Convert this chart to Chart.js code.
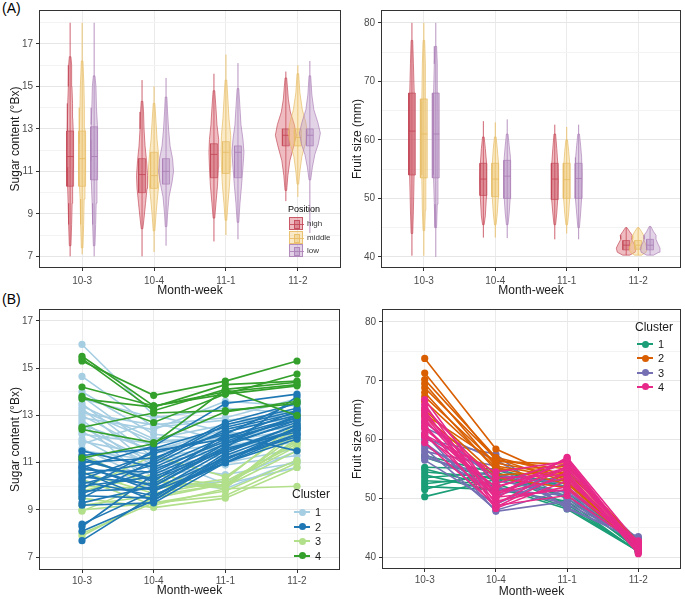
<!DOCTYPE html>
<html><head><meta charset="utf-8">
<script src="https://cdn.jsdelivr.net/npm/chart.js@4.4.1/dist/chart.umd.min.js"></script>
<style>
body{margin:0;background:#fff;width:685px;height:599px;position:relative;overflow:hidden;font-family:"Liberation Sans",Arial,sans-serif}
.pan{position:absolute}
.tag{position:absolute;font-size:14px;color:#000;line-height:14px}
.lt{position:absolute;color:#000;white-space:nowrap}
.key{position:absolute;width:14px;height:13px;box-sizing:border-box}
.key i{position:absolute;left:4px;top:2px;width:6px;height:9px;box-sizing:border-box;border:1px solid}
.key b{position:absolute;left:0;top:6px;width:14px;height:1px}
.sym{position:absolute;width:16px;height:2px}
.dot{position:absolute;width:7px;height:7px;border-radius:50%}
</style></head>
<body>
<div class="tag" style="left:2px;top:1px">(A)</div>
<div class="tag" style="left:2px;top:292px">(B)</div>
<canvas id="c1" class="pan" width="345" height="300" style="left:0;top:0"></canvas>
<canvas id="c2" class="pan" width="340" height="300" style="left:345px;top:0"></canvas>
<canvas id="c3" class="pan" width="345" height="299" style="left:0;top:300px"></canvas>
<canvas id="c4" class="pan" width="340" height="299" style="left:345px;top:300px"></canvas>
<div id="leg"></div>
<script>
// ---------- categories ----------
const weeks = ['10-3', '10-4', '11-1', '11-2'];
const positionNames = ['high', 'middle', 'low'];

// ---------- (A) sugar content: whiskers [lo, hi], boxes [q1, median, q3] ----------
const sugarHighWhisker = [[7.0, 18.0], [7.0, 15.3], [7.7, 15.6], [9.6, 15.7]];
const sugarMiddleWhisker = [[7.1, 18.0], [7.2, 15.0], [8.0, 16.5], [9.8, 16.0]];
const sugarLowWhisker = [[7.0, 18.0], [7.5, 15.4], [7.8, 16.1], [8.1, 16.2]];
const sugarHighBox = [[10.3, 11.7, 12.9], [10.0, 10.85, 11.6], [10.7, 11.8, 12.3], [12.2, 12.7, 13.0]];
const sugarMiddleBox = [[10.3, 11.6, 12.9], [10.2, 10.8, 11.9], [10.9, 11.9, 12.4], [12.2, 12.6, 13.0]];
const sugarLowBox = [[10.6, 11.7, 13.1], [10.4, 11.0, 11.6], [10.7, 11.9, 12.2], [12.2, 12.7, 13.0]];
// violin density profiles [value, relative density]
const sugarHighViolin = [
  [[7.5,0.8],[8.5,1.5],[9.5,2],[10.3,2.5],[11.2,3],[12,3.2],[12.9,3],[13.5,2.6],[14.2,2.4],[15,1.8],[16,1.5],[16.4,0.8]],
  [[8.3,0.8],[8.8,2],[9.5,3.5],[10.2,5],[10.8,5.5],[11.5,4.5],[12.2,3],[13,2],[13.8,1.5],[14.3,0.8]],
  [[8.8,0.8],[9.5,2],[10.3,3.5],[11.2,4.5],[11.9,5],[12.5,4.5],[13.2,3],[14,2],[14.8,0.8]],
  [[10.1,0.8],[10.8,2],[11.5,4],[12.2,8],[12.7,10.5],[13.2,8.5],[13.8,4.5],[14.4,2.5],[15,1.5],[15.4,0.8]]
];
const sugarMiddleViolin = [
  [[7.4,0.8],[8.5,1.5],[9.7,2],[10.5,2.8],[11.5,3.2],[12.3,3],[13,2.8],[14,2.2],[15,1.8],[16.2,0.8]],
  [[8.2,0.8],[9,2],[9.8,3.5],[10.5,5],[11.2,5.5],[11.8,4.5],[12.5,3],[13.3,2],[14.2,0.8]],
  [[8.7,0.8],[9.5,2],[10.3,3.5],[11.2,4.5],[12,5],[12.7,4.5],[13.5,3],[14.5,1.8],[15.3,0.8]],
  [[10.4,0.8],[11,2],[11.7,4],[12.3,7.5],[12.8,9.5],[13.3,8],[13.9,4.5],[14.7,2],[15.6,0.8]]
];
const sugarLowViolin = [
  [[7.5,0.8],[8.5,1.5],[9.5,2],[10.5,2.8],[11.5,3.2],[12.5,3.5],[13.2,3],[14,2.3],[15,1.8],[15.5,0.8]],
  [[8.4,0.8],[9,1.5],[9.8,3],[10.5,6],[11,7.5],[11.6,6.5],[12.2,4],[13,2.5],[13.8,1.5],[14.5,0.8]],
  [[8.6,0.8],[9.5,2],[10.3,3.5],[11.2,5],[11.9,6],[12.5,5],[13.2,3],[14,2],[14.9,0.8]],
  [[10.6,0.8],[11.2,2.5],[11.8,5],[12.3,8.5],[12.8,10.5],[13.3,8],[13.9,4],[14.6,2],[15.5,0.8]]
];

// ---------- (A) fruit size ----------
const fruitHighWhisker = [[40.2, 80], [43.3, 63.2], [43.0, 62.6], [40.3, 45.0]];
const fruitMiddleWhisker = [[40.2, 80], [43.3, 63.0], [44.0, 62.2], [40.3, 45.0]];
const fruitLowWhisker = [[40.0, 80], [43.2, 63.5], [43.0, 62.6], [40.3, 45.2]];
const fruitHighBox = [[54, 61.5, 68], [50.5, 53.3, 56], [49.8, 53.3, 56], [41.2, 42, 42.8]];
const fruitMiddleBox = [[53.5, 61, 67], [50.3, 53.3, 56], [50, 53.2, 56], [41.3, 42, 42.8]];
const fruitLowBox = [[53.5, 61, 68], [50, 53.8, 56.5], [50, 53.4, 56], [41.2, 42, 43]];
const fruitHighViolin = [
  [[44,0.8],[48,1.5],[54,2.2],[61,2.4],[68,2.2],[73,1.5],[77,0.8]],
  [[45.5,0.8],[47,2],[50,3],[53,3.5],[56,3],[58.5,2],[60.5,0.8]],
  [[45.5,0.8],[47.5,2],[50,3],[53,3.5],[56,3],[58.5,2],[61,0.8]],
  [[40.3,3.5],[40.8,9],[41.5,10],[42.2,8],[43,5.5],[43.7,6],[44.3,3.5],[45,0.8]]
];
const fruitMiddleViolin = [
  [[44.5,0.8],[48,1.5],[54,2],[61,2.2],[67,2],[73,1.5],[77,0.8]],
  [[45.5,0.8],[47.5,2],[50,3],[53,3.5],[56,3],[58.5,2],[60.5,0.8]],
  [[45.5,0.8],[47.5,2],[50,3],[53,3.3],[56,2.8],[58,2],[60,0.8]],
  [[40.3,3.5],[40.8,8],[41.5,9],[42.2,7.5],[43,5.5],[43.7,5.5],[44.3,3.5],[45,0.8]]
];
const fruitLowViolin = [
  [[45,0.8],[49,1.5],[54,2.2],[61,2.4],[68,2.2],[73,1.5],[76,0.8]],
  [[45.5,0.8],[47.5,2],[50,3],[54,3.5],[57,3],[59,2],[61,0.8]],
  [[45,0.8],[47.5,2],[50,3],[54,3.5],[57,3],[59,2],[61,0.8]],
  [[40.3,3.5],[40.8,9],[41.5,10],[42.2,8],[43,6],[43.7,6],[44.3,3.5],[45.2,0.8]]
];

// ---------- (B) sugar content per sample, by cluster ----------
const sugarCluster1 = [
  [16.0,13.0,12.3,12.0],[14.65,12.5,12.8,13.0],[14.0,12.2,11.9,12.4],[13.8,11.6,12.0,12.6],
  [13.7,12.9,13.3,13.1],[13.5,11.2,11.7,12.2],[13.4,12.0,12.6,13.2],[13.3,10.8,11.3,12.0],
  [13.2,11.9,12.1,12.8],[13.0,11.4,11.8,11.8],[12.9,12.4,13.6,13.4],[12.8,10.6,11.0,11.6],
  [12.6,11.5,12.4,12.9],[12.5,11.0,11.5,12.3],[12.3,10.9,10.5,11.0],[12.2,11.8,12.2,12.5],
  [12.0,10.4,10.9,11.3],[11.9,11.3,10.1,10.8],[11.8,12.7,11.9,12.1],[11.6,10.2,9.9,11.1],
  [11.5,11.1,11.6,12.4],[13.1,12.6,12.9,13.7],[12.7,10.0,10.2,11.5],[11.4,9.8,11.2,12.0]
];
const sugarCluster2 = [
  [11.5,10.8,12.1,12.9],[11.3,11.6,12.5,13.2],[11.1,10.3,11.5,12.6],[11.0,11.2,12.3,13.0],
  [10.9,9.8,11.0,12.2],[10.8,11.7,13.5,13.9],[10.7,10.6,12.0,12.8],[10.6,9.4,11.3,12.4],
  [10.5,11.0,12.6,13.3],[10.4,10.1,11.8,12.7],[10.3,11.4,12.2,11.5],[10.2,9.6,11.1,12.5],
  [10.1,10.9,12.4,13.1],[10.0,10.4,11.6,12.3],[9.9,11.5,12.0,13.2],[9.8,9.9,11.2,12.1],
  [9.7,10.7,11.9,12.9],[9.6,9.5,11.4,12.6],[9.5,11.1,12.7,13.5],[9.3,10.0,11.7,12.8],
  [9.2,9.3,11.0,12.0],[8.4,9.8,11.5,12.4],[8.3,10.5,11.8,13.0],[8.1,9.4,11.2,12.2],
  [7.7,9.6,11.0,12.5],[11.2,10.2,12.2,13.6],[10.8,10.0,11.6,13.8]
];
const sugarCluster3 = [
  [11.3,10.0,10.0,12.0],[11.1,10.3,9.9,12.4],[10.6,9.7,10.2,11.8],[10.3,9.2,9.9,10.0],
  [10.0,9.9,10.3,12.7],[9.8,10.5,10.0,11.5],[9.5,9.1,9.5,10.8],[9.2,9.6,10.1,11.9],
  [9.0,9.3,9.8,11.1],[8.95,10.2,10.0,12.2],[8.0,9.3,9.6,11.0],[7.9,9.5,10.1,11.7],
  [9.9,11.3,10.4,12.5]
];
const sugarCluster4 = [
  [15.5,13.4,14.0,14.3],[15.4,13.2,14.1,13.0],[15.3,13.85,14.45,15.3],[14.2,13.4,13.9,14.75],
  [13.7,13.35,14.3,14.45],[12.4,11.85,13.15,13.6],[13.8,12.7,13.9,14.25],[12.5,13.1,13.2,13.5],
  [11.2,11.8,14.1,14.4]
];

// ---------- (B) fruit size per sample, by cluster ----------
const fruitCluster1 = [
  [57.3,54.3,49.0,41.0],[57.0,53.0,55.8,41.5],[55.3,55.0,52.0,41.2],[55.0,52.0,48.2,41.0],
  [54.5,53.5,51.0,41.8],[54.0,51.2,54.0,41.3],[53.5,54.5,50.0,41.6],[53.0,52.5,48.5,41.1],
  [52.5,53.8,53.0,41.4],[52.0,51.5,49.5,40.9],[51.5,54.8,51.8,41.7],[50.3,53.2,50.5,41.2]
];
const fruitCluster2 = [
  [73.8,58.4,53.0,42.2],[71.3,56.5,55.0,42.5],[70.2,57.0,54.0,41.8],[69.5,55.5,53.5,42.0],
  [68.8,56.8,52.8,42.3],[68.0,54.8,55.5,42.6],[67.3,56.0,53.8,41.6],[66.5,55.3,52.5,42.1],
  [65.0,54.0,54.5,42.4],[64.3,56.3,55.8,42.0],[64.0,53.5,51.8,41.9]
];
const fruitCluster3 = [
  [63.0,53.0,51.0,43.3],[62.0,56.5,50.0,42.8],[61.0,47.8,49.5,43.0],[60.5,54.0,52.5,42.5],
  [60.0,57.5,48.2,43.5],[59.5,50.5,53.5,42.2],[59.0,52.0,49.0,43.1],[58.5,48.0,51.5,42.0],
  [58.0,55.5,48.5,42.7],[57.5,51.5,50.5,43.2],[57.0,53.5,52.0,42.4],[56.5,49.0,54.5,42.9]
];
const fruitCluster4 = [
  [66.8,50.5,56.8,41.5],[66.0,49.0,55.5,42.0],[65.5,52.5,56.5,41.2],[65.0,48.5,54.5,40.6],
  [64.5,51.0,55.0,41.8],[63.5,50.0,57.0,42.3],[63.0,53.5,54.0,41.0],[62.5,48.3,53.0,42.5],
  [61.8,51.8,56.0,41.4],[61.0,49.5,52.0,42.0],[60.5,52.0,55.2,40.8],[62.2,50.8,53.5,41.7],
  [59.5,48.8,50.5,42.2],[60.8,54.5,56.3,41.3],[64.0,50.2,51.5,42.8]
];

// ---------- styling ----------
const FONT = '"Liberation Sans", Arial, sans-serif';
const posColors = [
  {line:'rgba(196,72,88,0.85)', fill:'rgba(214,96,108,0.42)', box:'rgba(200,80,95,0.45)'},
  {line:'rgba(232,190,104,0.9)', fill:'rgba(243,206,124,0.42)', box:'rgba(236,196,112,0.45)'},
  {line:'rgba(172,128,182,0.85)', fill:'rgba(186,150,198,0.42)', box:'rgba(176,136,188,0.45)'}
];
const sugarClusterColors = ['#a6cee3', '#1f78b4', '#b2df8a', '#33a02c'];
const fruitClusterColors = ['#1b9e77', '#d95f02', '#7570b3', '#e7298a'];
const DODGE = 0.167, DENS = 1 / 72, BOXW = 0.048;

function violinPts(c, prof) {
  const right = prof.map(([y, w]) => ({x: c + w * DENS, y}));
  const left = prof.slice().reverse().map(([y, w]) => ({x: c - w * DENS, y}));
  return right.concat(left, [right[0]]);
}
function groupSets(wh, bx, vi, k) {
  const col = posColors[k], out = [];
  for (let i = 0; i < weeks.length; i++) {
    const c = i + 1 + (k - 1) * DODGE;
    out.push({data:[{x:c,y:wh[i][0]},{x:c,y:wh[i][1]}], borderColor:col.line, borderWidth:1, pointRadius:0, fill:false});
    out.push({data:violinPts(c, vi[i]), borderColor:col.line, backgroundColor:col.fill, borderWidth:0.8, pointRadius:0, fill:'shape'});
    const [q1, md, q3] = bx[i];
    out.push({data:[{x:c-BOXW,y:q1},{x:c+BOXW,y:q1},{x:c+BOXW,y:q3},{x:c-BOXW,y:q3},{x:c-BOXW,y:q1}], borderColor:col.line, backgroundColor:col.box, borderWidth:0.8, pointRadius:0, fill:'shape'});
    out.push({data:[{x:c-BOXW,y:md},{x:c+BOXW,y:md}], borderColor:col.line, borderWidth:1, pointRadius:0, fill:false});
  }
  return out;
}
function sampleSets(rows, color) {
  return rows.map(r => ({
    data: r.map((y, i) => ({x: i + 1, y})),
    borderColor: color, backgroundColor: color, pointBackgroundColor: color,
    borderWidth: 1.6, pointRadius: 3.6, pointBorderWidth: 0, fill: false
  }));
}
// Chart.js paints dataset 0 on top, so give later-listed sets a lower order to draw them last
function paintInOrder(sets) { return sets.map((s, i) => Object.assign(s, {order: sets.length - i})); }

const borderPlugin = {id:'pborder', afterDraw(chart){
  const {ctx, chartArea:a} = chart; ctx.save(); ctx.strokeStyle = '#333'; ctx.lineWidth = 1;
  ctx.strokeRect(Math.round(a.left)+0.5, Math.round(a.top)+0.5, Math.round(a.right-a.left)-1, Math.round(a.bottom-a.top)-1); ctx.restore();
}};
function makeOptions(o) {
  const isMaj = v => o.ylab.includes(v);
  return {
    responsive:false, animation:false, events:[],
    layout:{padding:o.pad},
    plugins:{legend:{display:false}, tooltip:{enabled:false}},
    scales:{
      x:{type:'linear', min:0.4, max:4.6,
        afterBuildTicks:s => { s.ticks = weeks.map((w, i) => ({value:i + 1})); },
        afterFit:s => { s.height = o.xh; },
        ticks:{callback:v => weeks[v - 1] || '', color:'#4d4d4d', font:{family:FONT, size:10}, padding:o.xtp, maxRotation:0, autoSkip:false},
        grid:{color:'#ebebeb', lineWidth:1, tickLength:3, tickColor:'#333', drawTicks:true},
        border:{display:false},
        title:{display:true, text:'Month-week', color:'#1a1a1a', font:{family:FONT, size:12}, padding:{top:0, bottom:o.xtpb}}
      },
      y:{type:'linear', min:o.ymin, max:o.ymax,
        afterBuildTicks:s => { s.ticks = o.yt.map(v => ({value:v})); },
        afterFit:s => { s.width = o.yw; },
        ticks:{callback:v => isMaj(v) ? String(v) : '', color:'#4d4d4d', font:{family:FONT, size:10}, padding:3, autoSkip:false},
        grid:{color:c => isMaj(c.tick && c.tick.value) ? '#e6e6e6' : '#f3f3f3', lineWidth:1, tickLength:3,
              tickColor:c => isMaj(c.tick && c.tick.value) ? '#333' : 'rgba(0,0,0,0)', drawTicks:true},
        border:{display:false},
        title:{display:true, text:o.ytitle, color:'#1a1a1a', font:{family:FONT, size:12}, padding:{top:o.ytpt, bottom:0}}
      }
    }
  };
}
const sugarTicks = [7, 8, 9, 10, 11, 12, 13, 14, 15, 16, 17, 18];
const sugarLabels = [7, 9, 11, 13, 15, 17];
const fruitTicks = [40, 45, 50, 55, 60, 65, 70, 75, 80];
const fruitLabels = [40, 50, 60, 70, 80];

new Chart(document.getElementById('c1'), {type:'line',
  data:{datasets:paintInOrder([].concat(groupSets(sugarHighWhisker, sugarHighBox, sugarHighViolin, 0),
    groupSets(sugarMiddleWhisker, sugarMiddleBox, sugarMiddleViolin, 1),
    groupSets(sugarLowWhisker, sugarLowBox, sugarLowViolin, 2)))},
  options:makeOptions({pad:{top:10,right:4,left:0,bottom:0}, xh:32, yw:39, xtp:4, xtpb:2.5, ytpt:8, ymin:6.45, ymax:18.6, yt:sugarTicks, ylab:sugarLabels, ytitle:'Sugar content (°Bx)'}),
  plugins:[borderPlugin]});

new Chart(document.getElementById('c2'), {type:'line',
  data:{datasets:paintInOrder([].concat(groupSets(fruitHighWhisker, fruitHighBox, fruitHighViolin, 0),
    groupSets(fruitMiddleWhisker, fruitMiddleBox, fruitMiddleViolin, 1),
    groupSets(fruitLowWhisker, fruitLowBox, fruitLowViolin, 2)))},
  options:makeOptions({pad:{top:10,right:4,left:0,bottom:0}, xh:32, yw:36, xtp:4, xtpb:2.5, ytpt:5, ymin:38.1, ymax:82.2, yt:fruitTicks, ylab:fruitLabels, ytitle:'Fruit size (mm)'}),
  plugins:[borderPlugin]});

new Chart(document.getElementById('c3'), {type:'line',
  data:{datasets:paintInOrder([].concat(sampleSets(sugarCluster1, sugarClusterColors[0]), sampleSets(sugarCluster3, sugarClusterColors[2]),
    sampleSets(sugarCluster2, sugarClusterColors[1]), sampleSets(sugarCluster4, sugarClusterColors[3])))},
  options:makeOptions({pad:{top:4,right:5,left:0,bottom:0}, xh:29, yw:39, xtp:2, xtpb:1.5, ytpt:8, ymin:6.46, ymax:17.5, yt:sugarTicks, ylab:sugarLabels, ytitle:'Sugar content (°Bx)'}),
  plugins:[borderPlugin]});

new Chart(document.getElementById('c4'), {type:'line',
  data:{datasets:paintInOrder([].concat(sampleSets(fruitCluster1, fruitClusterColors[0]), sampleSets(fruitCluster3, fruitClusterColors[2]),
    sampleSets(fruitCluster2, fruitClusterColors[1]), sampleSets(fruitCluster4, fruitClusterColors[3])))},
  options:makeOptions({pad:{top:4,right:4,left:0,bottom:0}, xh:30, yw:37, xtp:2, xtpb:0.5, ytpt:5, ymin:38, ymax:82.2, yt:fruitTicks, ylab:fruitLabels, ytitle:'Fruit size (mm)'}),
  plugins:[borderPlugin]});

// ---------- legends (HTML text) ----------
const leg = document.getElementById('leg');
function add(html) { leg.insertAdjacentHTML('beforeend', html); }
add('<div class="lt" style="left:288px;top:204px;font-size:9px">Position</div>');
positionNames.forEach((n, i) => {
  const c = posColors[i], top = 217 + i * 13.5;
  add(`<div class="key" style="left:289px;top:${top}px;background:${c.fill};border:1px solid ${c.line}"><i style="border-color:${c.line};background:${c.box}"></i><b style="background:${c.line}"></b></div>`);
  add(`<div class="lt" style="left:307px;top:${top + 2}px;font-size:8px;color:#333">${n}</div>`);
});
function clusterLegend(x, yTitle, y0, dy, colors) {
  add(`<div class="lt" style="left:${x}px;top:${yTitle - 7}px;font-size:12px;color:#1a1a1a">Cluster</div>`);
  colors.forEach((c, i) => {
    const cy = y0 + i * dy;
    add(`<div class="sym" style="left:${x + 2}px;top:${cy - 1}px;background:${c}"></div>`);
    add(`<div class="dot" style="left:${x + 6.5}px;top:${cy - 3.5}px;background:${c}"></div>`);
    add(`<div class="lt" style="left:${x + 23}px;top:${cy - 6}px;font-size:11px;color:#1a1a1a">${i + 1}</div>`);
  });
}
clusterLegend(292, 494, 512, 14.5, sugarClusterColors);
clusterLegend(635, 327, 344, 14.3, fruitClusterColors);
</script>
</body></html>
